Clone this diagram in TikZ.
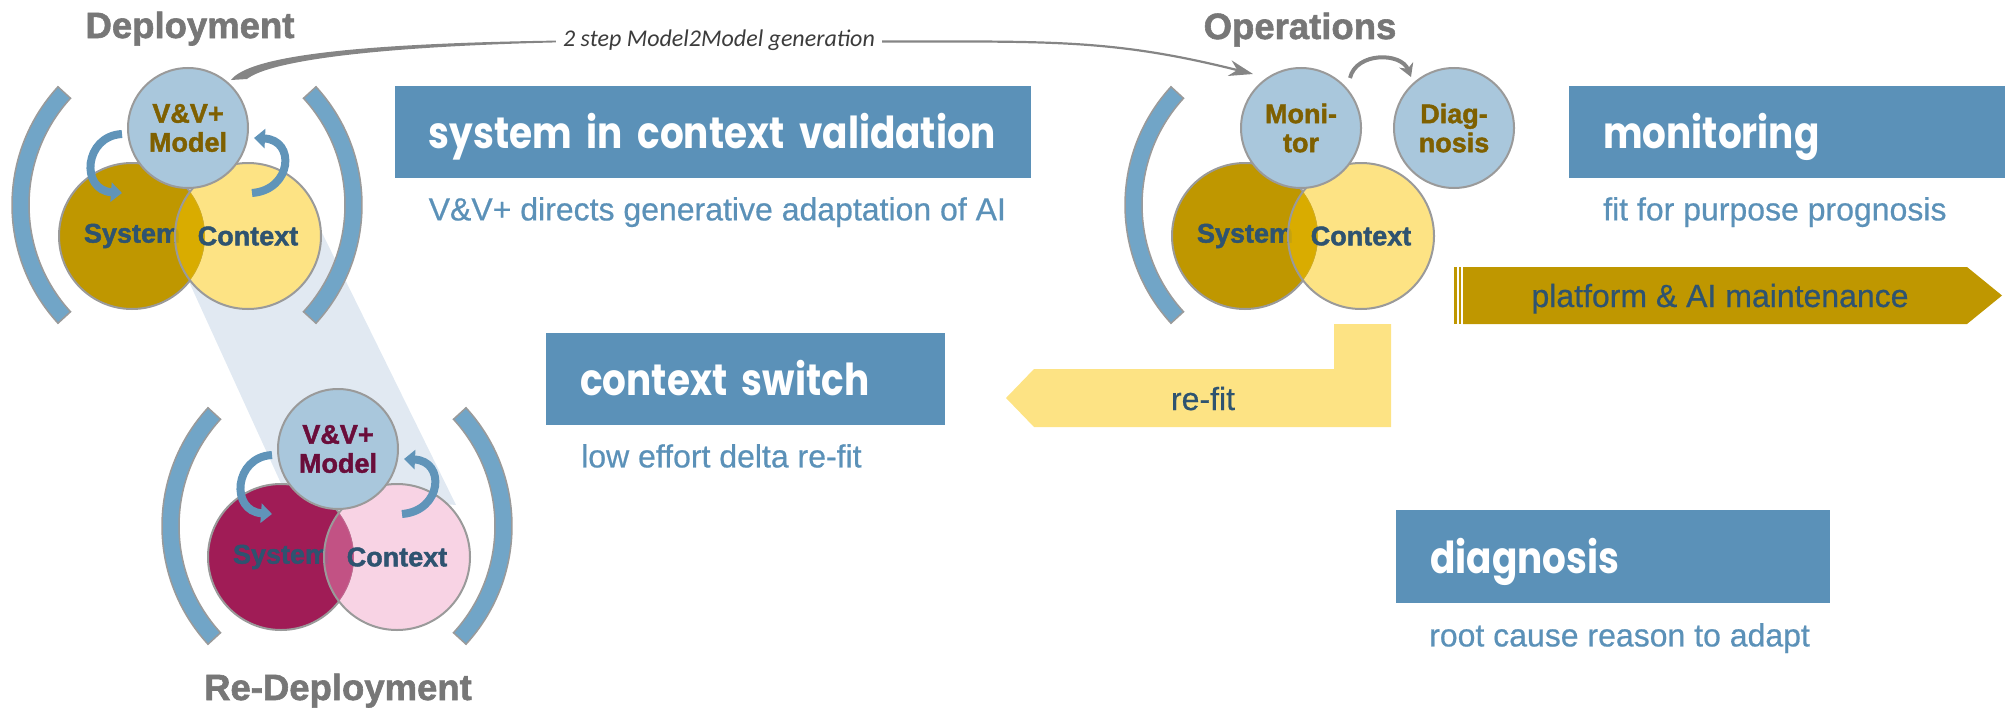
\documentclass[tikz,border=0pt]{standalone}
\usepackage{fontspec}
\setmainfont{Liberation Sans}
\newfontfamily\headfont{Poppins}[FakeStretch=0.85]
\newfontfamily\notefont{Carlito}
\newfontfamily\heavyfont{Liberation Sans}[BoldFeatures={FakeBold=1.6}]
\newfontfamily\plainfont{Liberation Sans}[FakeBold=0.6]
\usetikzlibrary{calc,arrows.meta}

\definecolor{bracketblue}{HTML}{71A5C7}
\definecolor{rimgray}{HTML}{9A9A9A}
\definecolor{vvblue}{HTML}{A9C7DC}
\definecolor{sysgold}{HTML}{BF9700}
\definecolor{ctxyellow}{HTML}{FDE384}
\definecolor{lensgold}{HTML}{DEB000}
\definecolor{sysplum}{HTML}{A01C56}
\definecolor{ctxpink}{HTML}{F8D3E4}
\definecolor{lensplum}{HTML}{C85B8C}
\definecolor{boxblue}{HTML}{5B91B8}
\definecolor{labelnavy}{HTML}{2E5370}
\definecolor{olivetext}{HTML}{7F6000}
\definecolor{maroontext}{HTML}{6A0D3A}
\definecolor{titlegray}{HTML}{777777}
\definecolor{shadeblue}{HTML}{E1E9F2}
\definecolor{swirlblue}{HTML}{6094B9}
\definecolor{flowgray}{HTML}{858585}
\definecolor{notegray}{HTML}{3C3C3C}

\newcommand\ringlabelfont{\heavyfont\fontsize{27}{29}\selectfont\bfseries}
\newcommand\phasefont{\heavyfont\fontsize{36.5}{40}\selectfont\bfseries}
\newcommand\headlinefont{\headfont\fontsize{44}{48}\selectfont\bfseries}
\newcommand\notelinefont{\plainfont\fontsize{32}{35}\selectfont}

% thick arc bracket (annular sector) about centre #1 from angle #2 to #3
\newcommand\phasebracket[3]{%
  \filldraw[bracket] ($(#1)+(#2:175pt)$) arc[start angle=#2,end angle=#3,radius=175pt]
    -- ($(#1)+(#3:158pt)$) arc[start angle=#3,end angle=#2,radius=158pt] -- cycle;}

% system/context pair: #1 prefix, #2 system fill, #3 context fill, #4 overlap fill
\newcommand\vennpair[4]{%
  \node[bigring,fill=#2] (#1sys) at (#1S) {System};
  \begin{scope}
    \clip (#1C) circle[radius=73pt];
    \fill[#3,even odd rule] (#1S) circle[radius=73pt] (#1C) circle[radius=90pt];
  \end{scope}
  \begin{scope}
    \clip (#1S) circle[radius=73pt];
    \fill[#4,fill opacity=0.86] (#1C) circle[radius=73pt];
  \end{scope}
  \node[bigring] (#1ctx) at (#1C) {Context};}

\begin{document}
\begin{tikzpicture}[x=1pt,y=-1pt,
  bracket/.style={fill=bracketblue,draw=rimgray,line width=1.5pt},
  ring/.style={circle,draw=rimgray,line width=2pt,inner sep=0pt,align=center,font=\ringlabelfont},
  headring/.style={ring,minimum size=120pt,fill=vvblue},
  bigring/.style={ring,minimum size=146pt,text=labelnavy},
  swirl/.style={draw=swirlblue,line width=8pt,-{Triangle[width=19pt,length=11pt]}},
  hop/.style={draw=flowgray,line width=4pt,-{Stealth[length=13pt,width=15pt]}},
  phasetitle/.style={font=\phasefont,text=titlegray,anchor=base,inner sep=0pt},
  headbox/.style={fill=boxblue,text=white,font=\headlinefont,anchor=north west,
    minimum height=92pt,inner xsep=34pt,inner ysep=0pt,align=left,text height=33pt,text depth=0pt},
  note/.style={font=\notelinefont,text=boxblue,anchor=base west,inner sep=0pt},
  flowlabel/.style={font=\notefont\itshape\fontsize{24}{26}\selectfont,text=notegray,
    anchor=base,inner xsep=7pt,inner ysep=0pt,text height=14pt,text depth=3pt},
  bannertext/.style={font=\notelinefont,text=labelnavy,anchor=base,inner sep=0pt},
]
\useasboundingbox (0,0) rectangle (2015,709);

% hand-over band from deployment to re-deployment
\fill[shadeblue] (180,262) -- (300,188) -- (456,505) -- (284,490) -- cycle;

% ---------------- Deployment ----------------
\begin{scope}[shift={(188,128)}]
  \coordinate (dB) at (-1,77);
  \coordinate (dS) at (-56,108);
  \coordinate (dC) at (60,108);
  \phasebracket{dB}{137.5}{222.5}
  \phasebracket{dB}{-42.5}{42.5}
  \vennpair{d}{sysgold}{ctxyellow}{lensgold}
  \coordinate (dL1) at (-66,6);  \coordinate (dL2) at (-66,65);
  \coordinate (dR1) at (64,65);  \coordinate (dR2) at (66,10);
  \draw[swirl] (dL1) .. controls +(-38,2) and +(-42,-3) .. (dL2);
  \draw[swirl] (dR1) .. controls +(40,-3) and +(42,2) .. (dR2);
  \node[headring,text=olivetext] (dvv) at (0,0) {V\&V+\\Model};
  \node[phasetitle] (dtitle) at (2,-90) {Deployment};
\end{scope}

% ---------------- Re-Deployment ----------------
\begin{scope}[shift={(338,449)}]
  \coordinate (rB) at (-1,77);
  \coordinate (rS) at (-57,108);
  \coordinate (rC) at (59,108);
  \phasebracket{rB}{137.5}{222.5}
  \phasebracket{rB}{-42.5}{42.5}
  \vennpair{r}{sysplum}{ctxpink}{lensplum}
  \coordinate (rL1) at (-66,6);  \coordinate (rL2) at (-66,65);
  \coordinate (rR1) at (64,65);  \coordinate (rR2) at (66,10);
  \draw[swirl] (rL1) .. controls +(-38,2) and +(-42,-3) .. (rL2);
  \draw[swirl] (rR1) .. controls +(40,-3) and +(42,2) .. (rR2);
  \node[headring,text=maroontext] (rvv) at (0,0) {V\&V+\\Model};
  \node[phasetitle] (rtitle) at (0,251) {Re-Deployment};
\end{scope}

% ---------------- Operations ----------------
\begin{scope}[shift={(1301,128)}]
  \coordinate (oB) at (-1,77);
  \coordinate (oS) at (-56,108);
  \coordinate (oC) at (60,108);
  \phasebracket{oB}{137.5}{222.5}
  \vennpair{o}{sysgold}{ctxyellow}{lensgold}
  \node[headring,text=olivetext] (omon) at (0,0) {Moni-\\tor};
  \node[headring,text=olivetext] (odiag) at (153,0) {Diag-\\nosis};
  \coordinate (hopA) at (49,-50);
  \coordinate (hopB) at (110,-51);
  \draw[hop] (hopA) .. controls +(6,-26) and +(-10,-25) .. (hopB);
  \node[phasetitle] (otitle) at (-1,-89) {Operations};
\end{scope}

% ---------------- model-to-model connector ----------------
\node[flowlabel] (m2m) at (719,47) {2 step Model2Model generation};
\coordinate (m2mtailA) at (231,80);
\coordinate (m2mtailB) at (247,79);
\coordinate (m2mtip) at (1253,74);
\fill[flowgray] (m2mtailA) .. controls +(18,-24) and +(-200,3) .. ([yshift=0.9pt]m2m.west)
  -- ([yshift=-0.9pt]m2m.west) .. controls +(-200,5) and +(20,-16) .. (m2mtailB) -- cycle;
\draw[flowgray,line width=2.2pt,-{Stealth[length=24pt,width=16pt]}]
  (m2m.east) .. controls +(170,0) and +(-140,-35) .. (m2mtip);

% ---------------- headline boxes and notes ----------------
\node[headbox,text width=568.5pt] (validate) at (394.5,86) {\mbox{system in context validation}};
\node[note] (validnote) at ([xshift=34pt,yshift=-42pt]validate.south west) {V\&V+ directs generative adaptation of AI};

\node[headbox,text width=368pt] (monitor) at (1569,86) {\mbox{monitoring}};
\node[note] (monnote) at ([xshift=34pt,yshift=-42pt]monitor.south west) {fit for purpose prognosis};

\node[headbox,text width=331pt] (switch) at (546,333) {\mbox{context switch}};
\node[note] (switchnote) at ([xshift=35pt,yshift=-42pt]switch.south west) {low effort delta re-fit};

\node[headbox,text width=366pt,minimum height=93pt] (diagnose) at (1396,510) {\mbox{diagnosis}};
\node[note] (diagnote) at ([xshift=33pt,yshift=-43pt]diagnose.south west) {root cause reason to adapt};

% ---------------- maintenance banner ----------------
\fill[sysgold] (1454,267) rectangle (1456.5,324);
\fill[sysgold] (1458.5,267) rectangle (1461,324);
\fill[sysgold] (1463,267) -- (1967,267) -- (2002,295.5) -- (1967,324) -- (1463,324) -- cycle;
\node[bannertext] (upkeep) at (1720,307) {platform \& AI maintenance};

% ---------------- re-fit return arrow ----------------
\fill[ctxyellow] (1391,324) -- (1391,427) -- (1034,427) -- (1006,398) -- (1034,369)
  -- (1334,369) -- (1334,324) -- cycle;
\node[bannertext] (refit) at (1203,410) {re-fit};
\end{tikzpicture}
\end{document}
